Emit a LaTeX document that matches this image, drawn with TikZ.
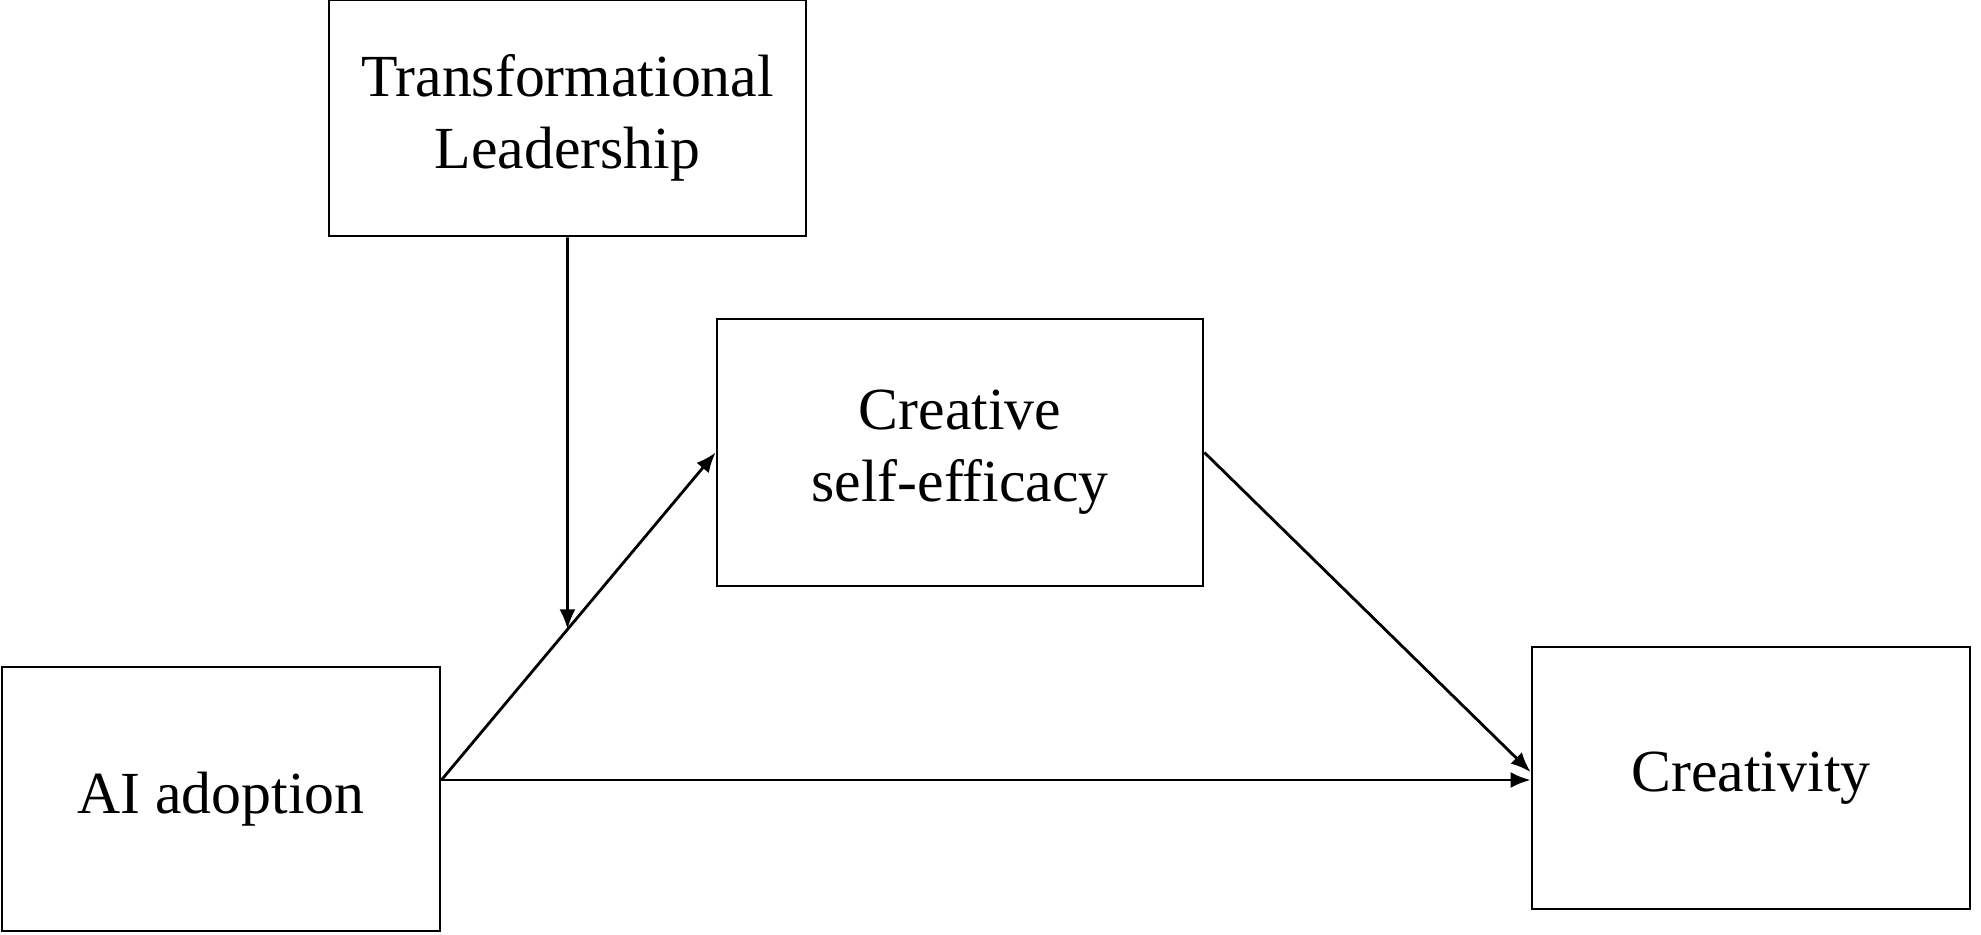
\documentclass[tikz,border=0pt]{standalone}
\usepackage{fontspec}
\setmainfont{Liberation Serif}
\usetikzlibrary{arrows.meta,positioning,calc}

\begin{document}
\begin{tikzpicture}[>={Latex[length=2mm,width=1.6mm]},font=\fontsize{17}{20.5}\selectfont,line width=0.8pt,
 var/.style={draw,align=center,inner sep=2pt}]
\useasboundingbox (0,0) rectangle (19.81,9.34);
\node[var,minimum width=4.77cm,minimum height=2.36cm] (tl) at (5.675,8.16) {Transformational\\Leadership};
\node[var,minimum width=4.86cm,minimum height=2.67cm] (cse) at (9.60,4.815) {Creative\\self-efficacy};
\node[var,minimum width=4.38cm,minimum height=2.64cm] (ai) at (2.21,1.35) {AI adoption};
\node[var,minimum width=4.38cm,minimum height=2.62cm] (cr) at (17.51,1.56) {Creativity};
\coordinate (aiout) at ([yshift=0.19cm]ai.east);
\path (tl.south) -- ++(0,-1) coordinate (tlb);
\coordinate (mod) at (intersection of tl.south--tlb and aiout--cse.west);
\draw[->] (aiout)--(cse.west); \draw[->] (aiout)--(aiout -| cr.west); \draw[->] (cse.east)--([yshift=0.06cm]cr.west); \draw[->] (tl.south)--(mod);
\end{tikzpicture}
\end{document}
